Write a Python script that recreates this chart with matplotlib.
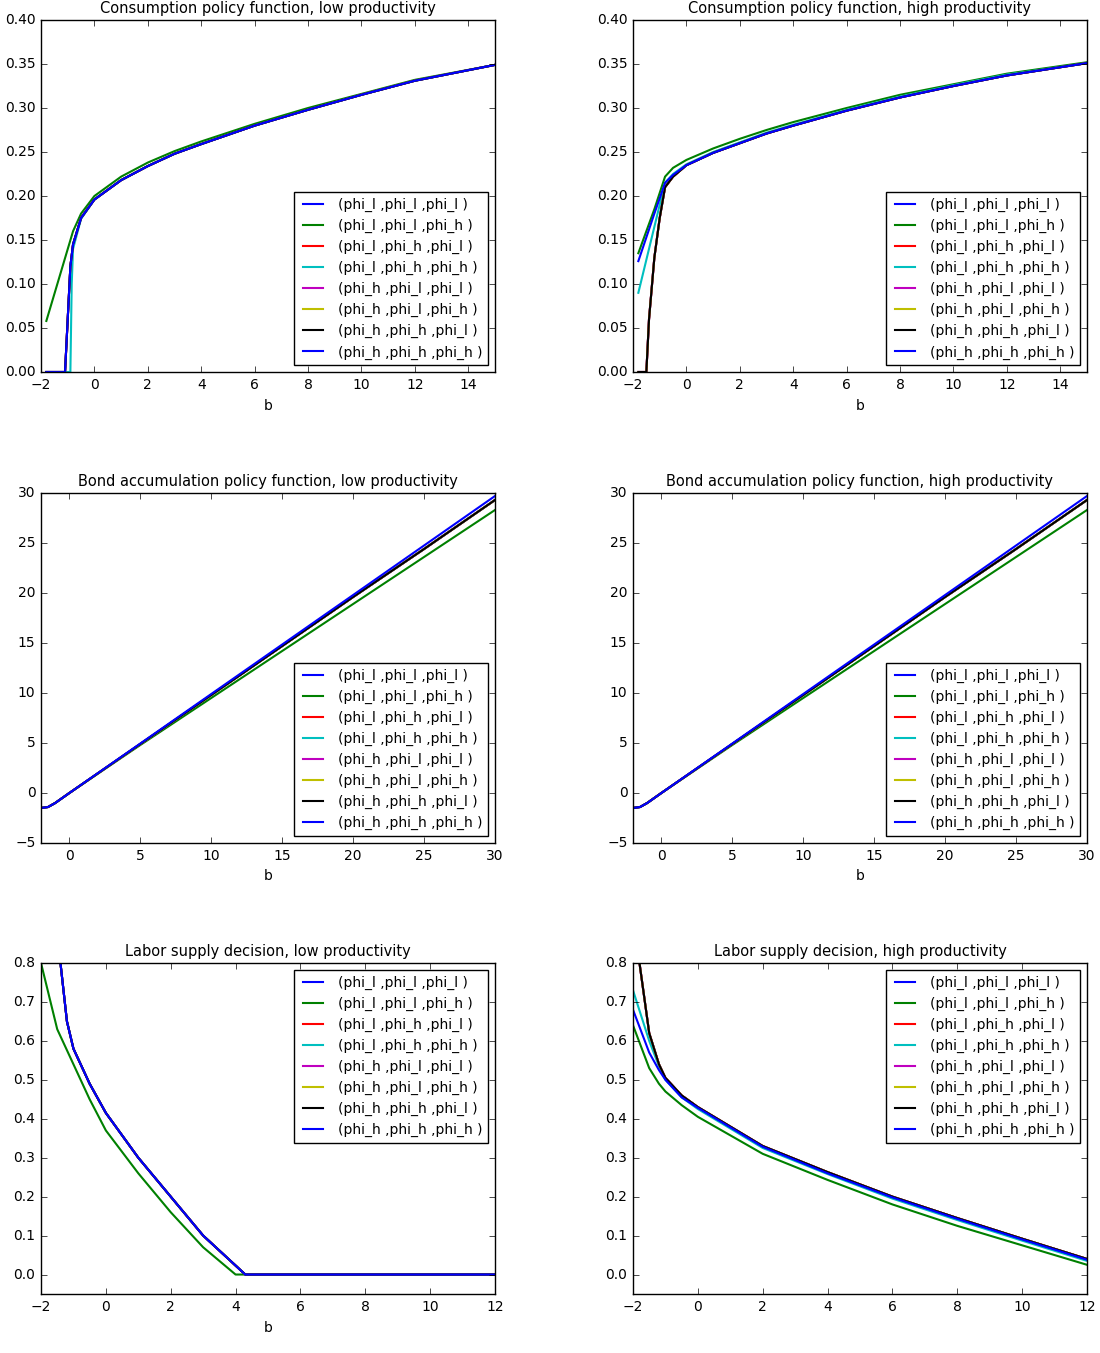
import matplotlib
matplotlib.use("Agg")
import matplotlib.pyplot as plt

plt.style.use('classic')
plt.rcParams['font.size'] = 10

labels = ["(phi_l ,phi_l ,phi_l )", "(phi_l ,phi_l ,phi_h )", "(phi_l ,phi_h ,phi_l )",
          "(phi_l ,phi_h ,phi_h )", "(phi_h ,phi_l ,phi_l )", "(phi_h ,phi_l ,phi_h )",
          "(phi_h ,phi_h ,phi_l )", "(phi_h ,phi_h ,phi_h )"]
colors = ['b', 'g', 'r', 'c', 'm', 'y', 'k', 'b']

# consumption, low productivity
cl_b = [-1.8, -1.1, -1.0, -0.9, -0.8, -0.5, 0, 1, 2, 3, 4, 6, 8, 10, 12, 15]
cl_main = [0, 0, 0.06, 0.12, 0.145, 0.175, 0.196, 0.218, 0.234, 0.248, 0.259, 0.28, 0.298, 0.315, 0.331, 0.349]
cl_green_b = [-1.8, -0.8, -0.5, 0, 1, 2, 3, 4, 6, 8, 10, 12, 15]
cl_green = [0.058, 0.16, 0.18, 0.2, 0.222, 0.238, 0.251, 0.262, 0.282, 0.3, 0.316, 0.332, 0.349]
cl_cyan_b = [-1.8, -0.9, -0.85, -0.8, -0.5, 0, 1, 2, 3, 4, 6, 8, 10, 12, 15]
cl_cyan = [0, 0, 0.1, 0.14, 0.174, 0.196, 0.218, 0.234, 0.248, 0.259, 0.28, 0.298, 0.315, 0.331, 0.349]

# consumption, high productivity
ch_b = [-1.8, -1.5, -1.4, -1.2, -1.0, -0.8, -0.5, 0, 1, 2, 3, 4, 6, 8, 10, 12, 15]
ch_main = [0, 0, 0.06, 0.13, 0.175, 0.21, 0.222, 0.235, 0.249, 0.26, 0.271, 0.28, 0.297, 0.312, 0.325, 0.337, 0.351]
ch_green_b = [-1.8, -1.2, -0.8, -0.5, 0, 1, 2, 3, 4, 6, 8, 10, 12, 15]
ch_green = [0.135, 0.185, 0.222, 0.232, 0.241, 0.254, 0.265, 0.275, 0.284, 0.3, 0.315, 0.327, 0.339, 0.352]
ch_cyan_b = [-1.8, -1.2, -0.8, -0.5, 0, 1, 2, 3, 4, 6, 8, 10, 12, 15]
ch_cyan = [0.09, 0.165, 0.215, 0.225, 0.236, 0.25, 0.261, 0.272, 0.281, 0.298, 0.313, 0.326, 0.338, 0.351]
ch_last_b = [-1.8, -1.2, -0.8, -0.5, 0, 1, 2, 3, 4, 6, 8, 10, 12, 15]
ch_last = [0.126, 0.18, 0.215, 0.224, 0.235, 0.249, 0.26, 0.271, 0.28, 0.297, 0.312, 0.325, 0.337, 0.351]

# bond accumulation
bd_b = [-2, -1.5, -1, 0, 5, 10, 15, 20, 25, 30]
bd_main = [-1.5, -1.4, -1.0, 0, 4.9, 9.8, 14.7, 19.6, 24.4, 29.3]
bd_green = [-1.5, -1.4, -1.0, 0, 4.8, 9.5, 14.2, 18.9, 23.6, 28.3]
bd_last = [-1.5, -1.4, -1.0, 0, 4.95, 9.9, 14.85, 19.8, 24.75, 29.7]

# labor supply, low productivity
ll_b = [-1.4, -1.2, -1.0, -0.5, 0, 1, 2, 3, 4.3, 6, 8, 10, 12]
ll_main = [0.8, 0.65, 0.58, 0.49, 0.415, 0.3, 0.2, 0.1, 0, 0, 0, 0, 0]
ll_green_b = [-2, -1.5, -1.0, -0.5, 0, 1, 2, 3, 4.0, 6, 8, 10, 12]
ll_green = [0.8, 0.63, 0.54, 0.45, 0.37, 0.26, 0.16, 0.07, 0, 0, 0, 0, 0]

# labor supply, high productivity
lh_b = [-1.8, -1.5, -1.2, -1.0, -0.5, 0, 2, 4, 6, 8, 10, 12]
lh_main = [0.8, 0.62, 0.54, 0.505, 0.46, 0.43, 0.33, 0.263, 0.2, 0.145, 0.092, 0.04]
lh_green_b = [-2, -1.5, -1.2, -1.0, -0.5, 0, 2, 4, 6, 8, 10, 12]
lh_green = [0.64, 0.53, 0.49, 0.47, 0.435, 0.405, 0.31, 0.243, 0.18, 0.125, 0.075, 0.025]
lh_cyan = [0.73, 0.6, 0.535, 0.5, 0.455, 0.425, 0.325, 0.258, 0.195, 0.14, 0.087, 0.035]
lh_last = [0.68, 0.57, 0.525, 0.5, 0.455, 0.428, 0.328, 0.26, 0.198, 0.143, 0.09, 0.038]


def draw(ax, series, title, xlim, ylim, loc, xlabel=True):
    for (x, y), c, lab in zip(series, colors, labels):
        ax.plot(x, y, color=c, lw=1.5, label=lab)
    ax.set_xlim(*xlim)
    ax.set_ylim(*ylim)
    ax.set_title(title, fontsize=10.5)
    if xlabel:
        ax.set_xlabel('b')
    ax.legend(loc=loc, fontsize=10, handlelength=2)


fig = plt.figure(figsize=(11, 13.53), dpi=100, facecolor='white')
W, H = 1100.0, 1353.0
def mk(x0, x1, y0, y1):
    return fig.add_axes([x0 / W, 1 - y1 / H, (x1 - x0) / W, (y1 - y0) / H])

m = (cl_b, cl_main)
draw(mk(41, 495, 20, 372),
     [m, (cl_green_b, cl_green), m, (cl_cyan_b, cl_cyan), m, m, m, m],
     'Consumption policy function, low productivity', (-2, 15), (0, 0.4), 'lower right')
m = (ch_b, ch_main)
draw(mk(633, 1087, 20, 372),
     [m, (ch_green_b, ch_green), m, (ch_cyan_b, ch_cyan), m, m, m, (ch_last_b, ch_last)],
     'Consumption policy function, high productivity', (-2, 15), (0, 0.4), 'lower right')
m = (bd_b, bd_main)
for x0, x1, t in [(41, 495, 'low'), (633, 1087, 'high')]:
    draw(mk(x0, x1, 493, 843),
         [m, (bd_b, bd_green), m, m, m, m, m, (bd_b, bd_last)],
         'Bond accumulation policy function, %s productivity' % t, (-2, 30), (-5, 30), 'lower right')
m = (ll_b, ll_main)
draw(mk(41, 495, 963, 1294),
     [m, (ll_green_b, ll_green), m, m, m, m, m, m],
     'Labor supply decision, low productivity', (-2, 12), (-0.05, 0.8), 'upper right')
m = (lh_b, lh_main)
draw(mk(633, 1087, 963, 1294),
     [m, (lh_green_b, lh_green), m, (lh_green_b, lh_cyan), m, m, m, (lh_green_b, lh_last)],
     'Labor supply decision, high productivity', (-2, 12), (-0.05, 0.8), 'upper right', xlabel=False)

fig.savefig('out.png', dpi=100, facecolor='white')
